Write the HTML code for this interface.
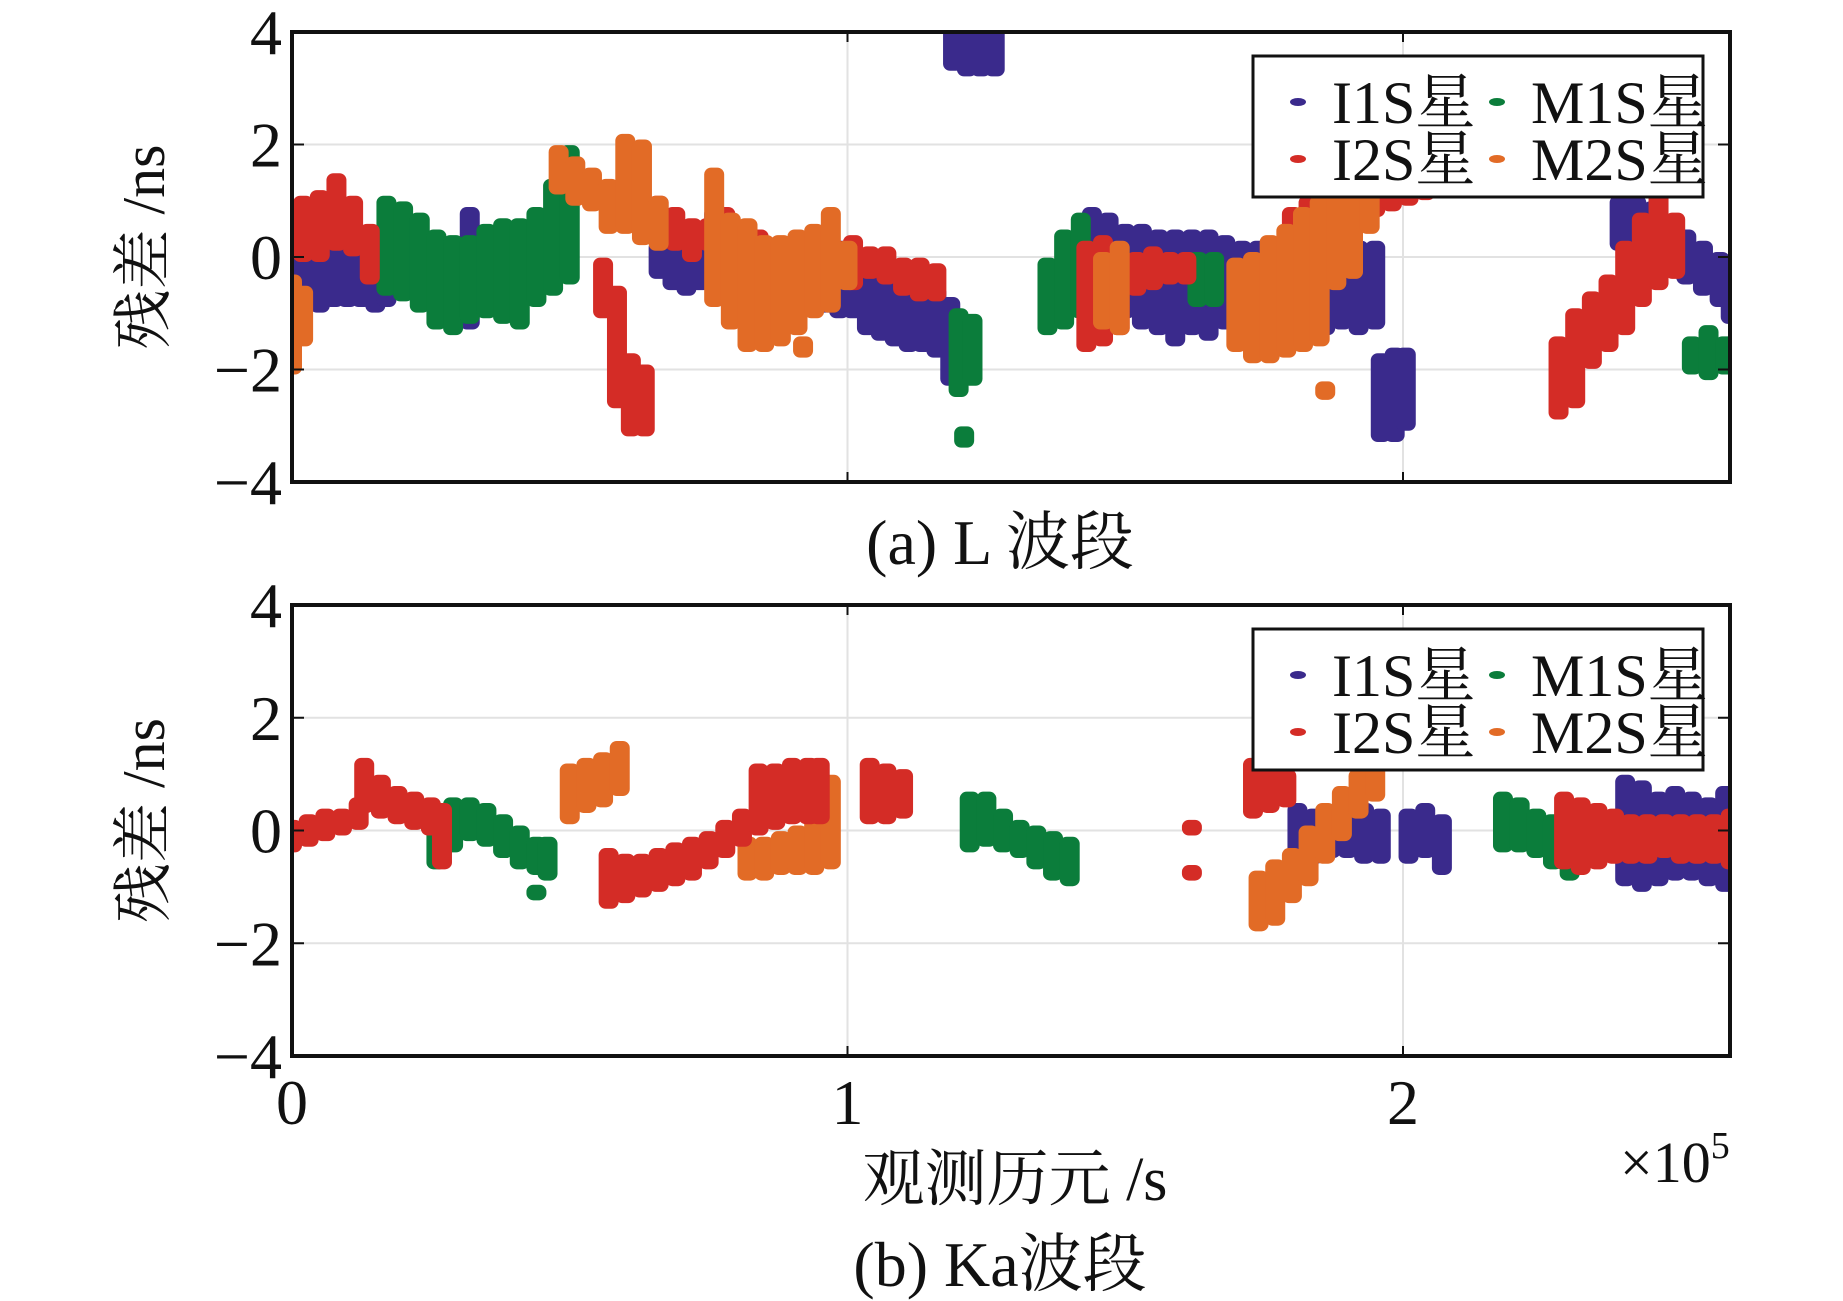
<!DOCTYPE html>
<html><head><meta charset="utf-8"><style>
html,body{margin:0;padding:0;background:#fff;}
svg{display:block;font-family:"Liberation Serif","Noto Serif CJK SC",serif;}
</style></head><body>
<svg id="fig" width="1843" height="1301" viewBox="0 0 1843 1301" xmlns="http://www.w3.org/2000/svg"></svg>
<script>
// ---- data (x in 1e5 s, residual ns: lo/hi band) ----
const xTicks=[0,1,2];
const yTicks=[-4,-2,0,2,4];
const seriesNames=["I1S","M1S","I2S","M2S"];
const seriesColors=["#3a2a8c","#0b7d3b","#d42c26","#e26b26"];
// Plot (a) L band
const aI1S_x=[0,0.025,0.05,0.075,0.1,0.125,0.15,0.17,0.32,0.66,0.685,0.71,0.735,0.76,0.96,0.985,1.01,1.035,1.06,1.085,1.11,1.135,1.16,1.185,1.19,1.215,1.24,1.265,1.44,1.47,1.5,1.53,1.56,1.59,1.62,1.65,1.68,1.71,1.74,1.77,1.8,1.83,1.86,1.89,1.92,1.95,1.96,1.985,2.005,2.39,2.42,2.45,2.48,2.51,2.54,2.57,2.59];
const aI1S_lo=[-0.8,-0.9,-0.9,-0.8,-0.8,-0.8,-0.9,-0.8,-1.2,-0.3,-0.5,-0.6,-0.5,-0.3,-0.9,-1.0,-1.0,-1.3,-1.4,-1.5,-1.6,-1.6,-1.7,-2.2,3.4,3.3,3.3,3.3,-0.4,-0.8,-1.0,-1.2,-1.3,-1.5,-1.3,-1.4,-1.2,-1.2,-1.3,-1.2,-1.3,-1.3,-1.3,-1.2,-1.3,-1.2,-3.2,-3.2,-3.0,0.2,0.0,-0.1,-0.2,-0.4,-0.6,-0.8,-1.1];
const aI1S_hi=[0.7,0.5,0.3,0.2,0.5,0.3,0.2,0.4,0.8,0.2,0.3,0.2,0.5,0.8,0.3,0.2,0.2,0.0,-0.2,-0.3,-0.4,-0.4,-0.6,-0.8,4,4,4,4,0.8,0.7,0.5,0.5,0.4,0.4,0.4,0.4,0.3,0.2,0.2,0.1,0.1,0.0,-0.1,0.1,0.2,0.2,-1.8,-1.7,-1.7,1.0,1.0,0.9,0.6,0.4,0.2,0,-0.3];
const aM1S_x=[0.17,0.2,0.23,0.26,0.29,0.32,0.35,0.38,0.41,0.44,0.47,0.5,1.2,1.225,1.21,1.36,1.39,1.42,1.45,1.63,1.66,2.52,2.55,2.58];
const aM1S_lo=[-0.6,-0.7,-0.9,-1.2,-1.3,-1.1,-1.0,-1.1,-1.2,-0.8,-0.6,-0.4,-2.4,-2.2,-3.3,-1.3,-1.2,-1.0,-0.5,-0.8,-0.8,-2.0,-2.1,-2.0];
const aM1S_hi=[1.0,0.9,0.7,0.4,0.3,0.3,0.5,0.6,0.6,0.8,1.3,1.9,-1.0,-1.1,-3.1,-0.1,0.4,0.7,0.2,0,0,-1.5,-1.3,-1.5];
const aI2S_x=[0.02,0.05,0.08,0.11,0.14,0.56,0.585,0.61,0.635,0.66,0.69,0.72,0.75,0.78,0.81,0.84,0.87,0.98,1.01,1.04,1.07,1.1,1.13,1.16,1.43,1.46,1.49,1.52,1.55,1.58,1.61,1.8,1.83,1.86,1.89,1.92,1.95,1.98,2.01,2.04,2.28,2.31,2.34,2.37,2.4,2.43,2.46,2.49];
const aI2S_lo=[0.0,0.0,0.2,0.1,-0.4,-1.0,-2.6,-3.1,-3.1,0.3,0.2,0.0,0.2,-0.2,-0.3,-0.5,-0.6,-0.4,-0.5,-0.3,-0.4,-0.6,-0.7,-0.7,-1.6,-1.5,-1.3,-0.6,-0.5,-0.4,-0.4,0,0.3,0.4,0.6,0.7,0.8,0.9,1.0,1.1,-2.8,-2.6,-1.9,-1.6,-1.3,-0.8,-0.5,-0.3];
const aI2S_hi=[1.0,1.1,1.4,1.0,0.5,-0.1,-0.6,-1.8,-2.0,1.0,0.8,0.6,0.6,0.8,0.5,0.4,0.2,0.2,0.3,0.1,0.1,-0.1,-0.1,-0.2,0.2,0.3,0.0,0.0,0.1,0.0,0.0,0.8,1.0,1.0,1.2,1.3,1.5,1.6,1.7,1.7,-1.5,-1.0,-0.7,-0.4,0.2,0.7,1.2,0.7];
const aM2S_x=[0,0.02,0.48,0.51,0.54,0.57,0.6,0.63,0.66,0.76,0.79,0.82,0.85,0.88,0.91,0.94,0.97,1.0,0.92,1.46,1.49,1.7,1.73,1.76,1.79,1.82,1.85,1.88,1.91,1.94,1.86];
const aM2S_lo=[-2.0,-1.5,1.2,1.0,0.9,0.5,0.5,0.3,0.2,-0.8,-1.2,-1.6,-1.6,-1.5,-1.3,-1.0,-0.9,-0.5,-1.7,-1.2,-1.3,-1.6,-1.8,-1.8,-1.7,-1.6,-1.5,-0.5,-0.3,0.5,-2.45];
const aM2S_hi=[-0.4,-0.6,1.9,1.7,1.5,1.3,2.1,2.0,1.0,1.5,0.7,0.6,0.3,0.3,0.4,0.5,0.8,0.2,-1.5,0,0.2,-0.1,0.0,0.3,0.5,0.8,1.0,1.2,1.5,1.6,-2.3];
// Plot (b) Ka band
const bI1S_x=[1.81,1.84,1.87,1.9,1.93,1.96,2.01,2.04,2.07,2.4,2.43,2.46,2.49,2.52,2.55,2.58];
const bI1S_lo=[-0.5,-0.5,-0.4,-0.4,-0.5,-0.5,-0.5,-0.4,-0.7,-0.9,-1.0,-0.9,-0.8,-0.8,-0.9,-1.0];
const bI1S_hi=[0.4,0.3,0.3,0.4,0.4,0.3,0.3,0.4,0.2,0.9,0.8,0.6,0.7,0.6,0.5,0.7];
const bM1S_x=[0.26,0.29,0.32,0.35,0.38,0.41,0.44,0.46,0.44,1.22,1.25,1.28,1.31,1.34,1.37,1.4,2.18,2.21,2.24,2.27,2.3];
const bM1S_lo=[-0.6,-0.3,-0.1,-0.2,-0.4,-0.6,-0.7,-0.8,-1.15,-0.3,-0.2,-0.3,-0.4,-0.6,-0.8,-0.9,-0.3,-0.3,-0.4,-0.6,-0.8];
const bM1S_hi=[0.4,0.5,0.5,0.4,0.2,0,-0.2,-0.2,-1.05,0.6,0.6,0.3,0.1,0,-0.1,-0.2,0.6,0.5,0.3,0.2,0.0];
const bI2S_x=[0,0.03,0.06,0.09,0.12,0.13,0.16,0.19,0.22,0.25,0.27,0.57,0.6,0.63,0.66,0.69,0.72,0.75,0.78,0.81,0.84,0.87,0.9,0.93,0.95,1.04,1.07,1.1,1.62,1.62,1.73,1.76,1.79,2.29,2.32,2.35,2.38,2.41,2.44,2.47,2.5,2.53,2.56,2.59];
const bI2S_lo=[-0.3,-0.2,-0.1,0,0.1,0.4,0.3,0.2,0.1,0,-0.6,-1.3,-1.2,-1.1,-1.0,-0.9,-0.8,-0.6,-0.4,-0.2,0,0.1,0.2,0.2,0.2,0.2,0.2,0.3,-0.8,0,0.3,0.4,0.5,-0.6,-0.7,-0.6,-0.5,-0.5,-0.5,-0.4,-0.5,-0.5,-0.5,-0.6];
const bI2S_hi=[0.1,0.2,0.3,0.3,0.5,1.2,0.9,0.7,0.6,0.5,0.4,-0.4,-0.5,-0.5,-0.4,-0.3,-0.2,-0.1,0.1,0.3,1.1,1.1,1.2,1.2,1.2,1.2,1.1,1.0,-0.7,0.1,1.2,1.2,1.0,0.6,0.5,0.4,0.3,0.2,0.2,0.2,0.2,0.2,0.2,0.3];
const bM2S_x=[0.5,0.53,0.56,0.59,0.82,0.85,0.88,0.91,0.94,0.97,1.74,1.77,1.8,1.83,1.86,1.89,1.92,1.95];
const bM2S_lo=[0.2,0.4,0.5,0.7,-0.8,-0.8,-0.7,-0.7,-0.7,-0.6,-1.7,-1.6,-1.2,-0.9,-0.5,-0.1,0.3,0.6];
const bM2S_hi=[1.1,1.2,1.3,1.5,-0.2,-0.2,-0.1,0,0.2,0.9,-0.8,-0.6,-0.4,0,0.4,0.7,1.0,1.2];

const NS="http://www.w3.org/2000/svg";
const svg=document.getElementById('fig');
function el(tag,attrs,parent){const e=document.createElementNS(NS,tag);for(const k in attrs)e.setAttribute(k,attrs[k]);(parent||svg).appendChild(e);return e;}
const X0=292,X1=1730,XU=555.5;
function xs(v){return X0+v*XU;}

function panel(id,top,bottom,data,caption,capY){
  const g=el('g',{});
  
  
  const yU=(bottom-top)/8;
  const ys=v=>top+(4-v)*yU;
  xTicks.forEach(t=>{ if(t>0){const l=el('line',{x1:xs(t),x2:xs(t),y1:top,y2:bottom,stroke:'#e2e2e2','stroke-width':2},g);
    }});
  yTicks.forEach(t=>{ if(t>-4&&t<4){const l=el('line',{x1:X0,x2:X1,y1:ys(t),y2:ys(t),stroke:'#e2e2e2','stroke-width':2},g);
    }});
  const cp=el('clipPath',{id:id+'clip'},g);el('rect',{x:X0,y:top,width:X1-X0,height:bottom-top},cp);
  const marks=el('g',{'clip-path':'url(#'+id+'clip)'},g);
  
  
  data.forEach(s=>{
    const sg=el('g',{fill:s.color},marks);
    
    
    for(let i=0;i<s.x.length;i++){
      const y1=ys(s.hi[i]),y2=ys(s.lo[i]);
      const r=el('rect',{x:xs(s.x[i])-10,y:y1-5,width:20,height:Math.max(8,y2-y1+10),rx:7},sg);
      
      
    }
  });
  const box=el('rect',{x:X0,y:top,width:X1-X0,height:bottom-top,fill:'none',stroke:'#111','stroke-width':4},g);
  
  yTicks.forEach(t=>{
    el('line',{x1:X0,x2:X0+12,y1:ys(t),y2:ys(t),stroke:'#111','stroke-width':2},g);
    el('line',{x1:X1,x2:X1-12,y1:ys(t),y2:ys(t),stroke:'#111','stroke-width':2},g);
    const tx=el('text',{x:X0-10,y:ys(t)+22,'text-anchor':'end','font-size':64,fill:'#111'},g);
    tx.textContent=(t<0?'\u2212':'')+Math.abs(t);
    
  });
  xTicks.forEach(t=>{
    el('line',{x1:xs(t),x2:xs(t),y1:top,y2:top+10,stroke:'#111','stroke-width':2},g);
    el('line',{x1:xs(t),x2:xs(t),y1:bottom,y2:bottom-10,stroke:'#111','stroke-width':2},g);
  });
  const yl=el('text',{x:0,y:0,transform:'translate(164,'+((top+bottom)/2-10)+') rotate(-90)','text-anchor':'middle','font-size':60,fill:'#111'},g);
  yl.textContent='残差 /ns';
  
  const lg=el('g',{},g);
  
  const ly=top+24;
  el('rect',{x:1253,y:ly,width:450,height:141,fill:'#fff',stroke:'#111','stroke-width':3},lg);
  const pos=[[1298,ly+46],[1497,ly+46],[1298,ly+103],[1497,ly+103]];
  [0,1,2,3].forEach((k,i)=>{
    const e=el('g',{},lg);
    
    
    el('ellipse',{cx:pos[i][0],cy:pos[i][1],rx:8,ry:4,fill:seriesColors[k]},e);
    const t=el('text',{x:pos[i][0]+34,y:pos[i][1]+21,'font-size':60,fill:'#111'},e);
    t.textContent=seriesNames[k]+'星';
  });
  const cap=el('text',{x:1000,y:capY,'text-anchor':'middle','font-size':64,fill:'#111'},g);
  cap.textContent=caption;
  
  return ys;
}
function S(k,x,lo,hi){return {name:seriesNames[k],color:seriesColors[k],x:x,lo:lo,hi:hi};}
panel('panel-a',32,482,[S(0,aI1S_x,aI1S_lo,aI1S_hi),S(1,aM1S_x,aM1S_lo,aM1S_hi),S(2,aI2S_x,aI2S_lo,aI2S_hi),S(3,aM2S_x,aM2S_lo,aM2S_hi)],'(a) L 波段',564);
panel('panel-b',605,1056,[S(0,bI1S_x,bI1S_lo,bI1S_hi),S(1,bM1S_x,bM1S_lo,bM1S_hi),S(3,bM2S_x,bM2S_lo,bM2S_hi),S(2,bI2S_x,bI2S_lo,bI2S_hi)],'(b) Ka波段',1286);
xTicks.forEach(t=>{
  const tx=el('text',{x:xs(t),y:1124,'text-anchor':'middle','font-size':64,fill:'#111'});
  tx.textContent=String(t);
  
});
const xl=el('text',{x:1015,y:1200,'text-anchor':'middle','font-size':62,fill:'#111'});
xl.textContent='观测历元 /s';

const ex=el('text',{x:1620,y:1182,'font-size':58,fill:'#111'});

ex.textContent='×10';
const sup=el('tspan',{dy:-24,'font-size':38},ex);sup.textContent='5';
</script>
</body></html>
